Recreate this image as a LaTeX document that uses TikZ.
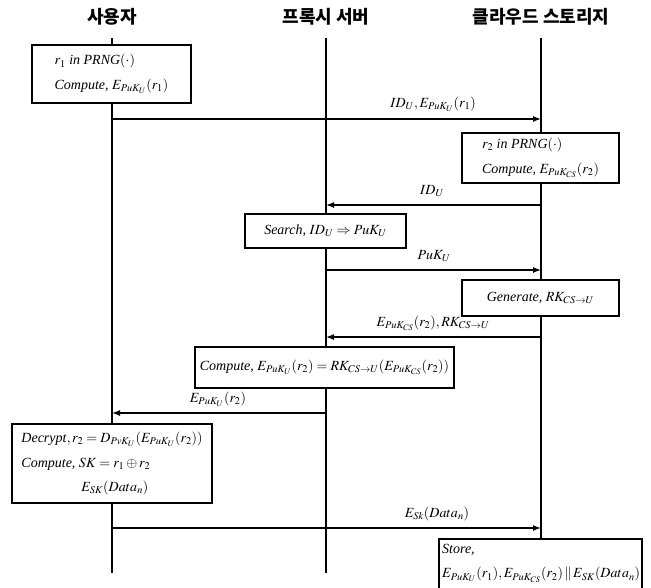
\documentclass[tikz,border=0pt]{standalone}
\usepackage{mathptmx}
\usepackage{fontspec}
\setmainfont{Liberation Serif}
\newfontfamily\kr{Noto Sans CJK KR}
\usetikzlibrary{arrows.meta}
\begin{document}
\begin{tikzpicture}[x=1pt,y=-1pt,
  life/.style={line width=1.8pt},
  box/.style={draw,line width=1.6pt,fill=white,inner sep=0pt,align=left,
    font=\fontsize{14}{24.5}\selectfont},
  msg/.style={line width=1.4pt,-{Latex[length=8pt,width=6pt]}},
  lbl/.style={font=\fontsize{14}{16}\selectfont,inner sep=0pt},
  hdr/.style={font=\kr\bfseries\fontsize{18}{20}\selectfont,inner sep=0pt}]
\useasboundingbox (0,0) rectangle (651,587);
% headers
\node[hdr] (hu) at (112,17) {사용자};
\node[hdr] (hp) at (326,17) {프록시 서버};
\node[hdr] (hc) at (541,17) {클라우드 스토리지};
% lifelines
\coordinate (uT) at (112,38); \coordinate (uB) at (112,573);
\coordinate (pT) at (326,38); \coordinate (pB) at (326,573);
\coordinate (cT) at (541,38); \coordinate (cB) at (541,587);
\draw[life] (uT) -- (uB);
\draw[life] (pT) -- (pB);
\draw[life] (cT) -- (cB);
% boxes
\node[box,minimum width=159pt,minimum height=58pt] (b1) at (111.5,74)
  {$r_1$ \textit{in PRNG}$(\cdot)$\\ \textit{Compute,} $E_{PuK_U}(r_1)$};
\node[box,minimum width=157pt,minimum height=50pt] (b2) at (540.5,158)
  {$r_2$ \textit{in PRNG}$(\cdot)$\\ \textit{Compute,} $E_{PuK_{CS}}(r_2)$};
\node[box,minimum width=161pt,minimum height=34pt] (b3) at (325.5,231)
  {\textit{Search,} $ID_U \Rightarrow PuK_U$};
\node[box,minimum width=157pt,minimum height=36pt] (b4) at (540.5,298)
  {\textit{Generate,} $RK_{CS\to U}$};
\node[box,minimum width=259pt,minimum height=41pt] (b5) at (324.5,367.5)
  {\textit{Compute,} $E_{PuK_U}(r_2) = RK_{CS\to U}(E_{PuK_{CS}}(r_2))$};
\node[box,minimum width=200pt,minimum height=79pt] (b6) at (112,463.5)
  {\textit{Decrypt}$,r_2 = D_{PvK_U}(E_{PuK_U}(r_2))$\\
   \textit{Compute,} $SK = r_1 \oplus r_2$\\
   \hspace*{60pt}$E_{SK}(Data_n)$};
\fill[white] (439,539) rectangle (642,590);
\draw[line width=1.6pt] (439,590) -- (439,539) -- (642,539) -- (642,590);
\node[anchor=north west,inner sep=0pt,align=left,font=\fontsize{14}{24.5}\selectfont] (b7) at (442,544)
  {\textit{Store,}\\ $E_{PuK_U}(r_1), E_{PuK_{CS}}(r_2) \,\|\, E_{SK}(Data_n)$};
% messages
\coordinate (m1s) at (112,119); \coordinate (m1e) at (541,119);
\draw[msg] (m1s) -- (m1e);
\node[lbl] (l1) at (433,104) {$ID_U, E_{PuK_U}(r_1)$};
\coordinate (m2s) at (541,205); \coordinate (m2e) at (326,205);
\draw[msg] (m2s) -- (m2e);
\node[lbl] (l2) at (432,191) {$ID_U$};
\coordinate (m3s) at (326,270); \coordinate (m3e) at (541,270);
\draw[msg] (m3s) -- (m3e);
\node[lbl] (l3) at (434,256) {$PuK_U$};
\coordinate (m4s) at (541,337); \coordinate (m4e) at (326,337);
\draw[msg] (m4s) -- (m4e);
\node[lbl] (l4) at (433,323) {$E_{PuK_{CS}}(r_2), RK_{CS\to U}$};
\coordinate (m5s) at (326,413); \coordinate (m5e) at (112,413);
\draw[msg] (m5s) -- (m5e);
\node[lbl] (l5) at (218,399) {$E_{PuK_U}(r_2)$};
\coordinate (m6s) at (112,528); \coordinate (m6e) at (541,528);
\draw[msg] (m6s) -- (m6e);
\node[lbl] (l6) at (437,514) {$E_{Sk}(Data_n)$};
\end{tikzpicture}
\end{document}
